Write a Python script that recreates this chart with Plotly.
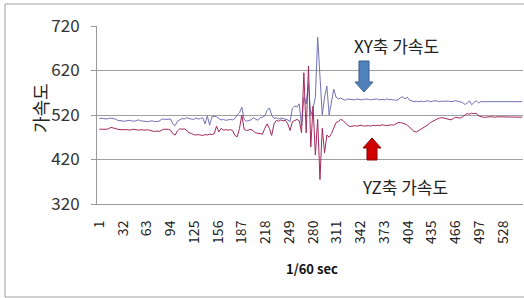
import plotly.graph_objects as go

# sample index (1/60 sec), every 3rd sample
t = list(range(1, 554, 3))

xy_accel = [
    512, 513, 512, 511, 512, 513, 512, 511, 508, 507,
    507, 506, 507, 508, 507, 506, 507, 509, 507, 506,
    506, 505, 506, 507, 505, 506, 506, 510, 511, 510,
    510, 511, 500, 496, 506, 510, 512, 511, 514, 512,
    511, 510, 513, 511, 512, 514, 500, 518, 497, 516,
    517, 516, 512, 509, 510, 508, 509, 510, 509, 512,
    520, 525, 538, 510, 506, 507, 509, 514, 510, 508,
    514, 515, 518, 530, 536, 520, 512, 514, 511, 513,
    512, 510, 509, 505, 535, 540, 538, 545, 495, 560,
    545, 590, 520, 535, 560, 695, 600, 520, 560, 585,
    520, 545, 578, 560, 556, 558, 555, 553, 556, 555,
    555, 554, 556, 555, 554, 555, 556, 555, 554, 555,
    555, 556, 554, 555, 554, 556, 555, 555, 554, 553,
    554, 559, 561, 556, 560, 553, 551, 550, 551, 550,
    551, 550, 551, 552, 550, 551, 552, 551, 550, 551,
    551, 552, 551, 550, 551, 552, 551, 550, 548, 544,
    546, 552, 543, 548, 552, 547, 550, 550, 550, 550,
    550, 550, 550, 550, 550, 550, 550, 550, 550, 550,
    550, 550, 550, 550, 550,
]

yz_accel = [
    488, 488, 487, 488, 489, 492, 491, 489, 488, 487,
    487, 488, 487, 486, 487, 488, 487, 486, 487, 486,
    486, 487, 485, 484, 483, 484, 483, 486, 488, 488,
    488, 486, 478, 475, 484, 489, 488, 489, 486, 480,
    479, 476, 475, 476, 475, 474, 476, 475, 477, 476,
    478, 495, 482, 490, 486, 487, 486, 487, 485, 474,
    471, 490, 520, 488, 485, 487, 488, 484, 480, 479,
    478, 477, 490, 500, 490, 474, 500, 508, 506, 509,
    507, 508, 500, 485, 505, 508, 510, 507, 480, 615,
    480, 630, 448, 540, 430, 510, 375, 490, 435, 475,
    470, 478, 490, 503, 505, 510, 508, 502, 497, 494,
    495, 496, 495, 496, 497, 495, 496, 496, 495, 497,
    496, 497, 496, 498, 497, 496, 497, 498, 497, 500,
    503, 503, 502, 500, 497, 493, 488, 483, 482, 485,
    488, 491, 494, 498, 503, 506, 509, 511, 513, 514,
    513, 512, 510, 509, 512, 515, 514, 513, 516, 520,
    523, 522, 524, 523, 524, 518, 516, 515, 515, 516,
    516, 516, 515, 516, 516, 515, 515, 515, 515, 515,
    515, 515, 515, 515, 515,
]

x_ticks = list(range(1, 529, 31))
y_ticks = [320, 420, 520, 620, 720]

W, H = 524, 298
L, R, T, B = 97, 523, 26, 204


def px(x):
    return (x - L) / (R - L)


def py(y):
    return (B - y) / (B - T)


def path(points):
    s = "M " + " L ".join(f"{px(a):.5f},{py(b):.5f}" for a, b in points) + " Z"
    return s


fig = go.Figure()
fig.add_trace(go.Scatter(x=t, y=xy_accel, mode="lines", name="XY축 가속도",
                         line=dict(color="#7272B8", width=1)))
fig.add_trace(go.Scatter(x=t, y=yz_accel, mode="lines", name="YZ축 가속도",
                         line=dict(color="#A3285E", width=1)))

font_main = "Noto Sans CJK KR, Noto Sans, sans-serif"

fig.update_layout(
    width=W, height=H, autosize=False,
    margin=dict(l=L, r=W - R, t=T, b=H - B, pad=0),
    paper_bgcolor="white", plot_bgcolor="white",
    showlegend=False,
    font=dict(family=font_main, color="#222222"),
    xaxis=dict(range=[-2, 554], tickmode="array", tickvals=x_ticks,
               ticktext=[str(v) for v in x_ticks], tickangle=-90,
               tickfont=dict(size=14, color="#222222"), showgrid=False,
               showline=True, linecolor="#9A9A9A", linewidth=1,
               ticks="", ticklabelstandoff=10, zeroline=False),
    yaxis=dict(range=[320, 720], tickmode="array", tickvals=y_ticks,
               tickfont=dict(size=17, color="#333333"), showgrid=True,
               gridcolor="#A0A0A0", gridwidth=1, showline=True,
               linecolor="#9A9A9A", linewidth=1, ticks="outside", ticklen=5,
               tickcolor="#9A9A9A", ticklabelstandoff=8, zeroline=False),
)

shapes = [
    # outer chart border
    dict(type="rect", xref="paper", yref="paper", x0=px(5), x1=px(530),
         y0=py(297), y1=py(4), line=dict(color="#A0A0A0", width=1),
         fillcolor="rgba(0,0,0,0)", layer="below"),
    # blue down arrow
    dict(type="path", xref="paper", yref="paper",
         path=path([(359, 61), (369, 61), (369, 82), (373, 82), (364, 92), (355, 82), (359, 82)]),
         fillcolor="#4F81BD", line=dict(color="#385D8A", width=1)),
    # red up arrow
    dict(type="path", xref="paper", yref="paper",
         path=path([(367, 160), (377, 160), (377, 148), (381, 148), (372, 138), (363, 148), (367, 148)]),
         fillcolor="#D00000", line=dict(color="#8B0000", width=1)),
]
fig.update_layout(shapes=shapes)

annotations = [
    dict(text="XY축 가속도", x=px(396), y=py(45), xref="paper", yref="paper",
         showarrow=False, font=dict(size=17, family=font_main, color="#222222"),
         xanchor="center", yanchor="middle"),
    dict(text="YZ축 가속도", x=px(405), y=py(186), xref="paper", yref="paper",
         showarrow=False, font=dict(size=17, family=font_main, color="#222222"),
         xanchor="center", yanchor="middle"),
    dict(text="가속도", x=px(40), y=py(108), xref="paper", yref="paper",
         showarrow=False, textangle=-90, font=dict(size=18, family=font_main, color="#222222"),
         xanchor="center", yanchor="middle"),
    dict(text="<b>1/60 sec</b>", x=px(312), y=py(268), xref="paper", yref="paper",
         showarrow=False, font=dict(size=13, family=font_main, color="#111111"),
         xanchor="center", yanchor="middle"),
]
fig.update_layout(annotations=annotations)

fig.write_html("out.html", config={"displayModeBar": False},
               post_script="document.body.style.margin='0px';document.body.style.overflow='hidden';")
